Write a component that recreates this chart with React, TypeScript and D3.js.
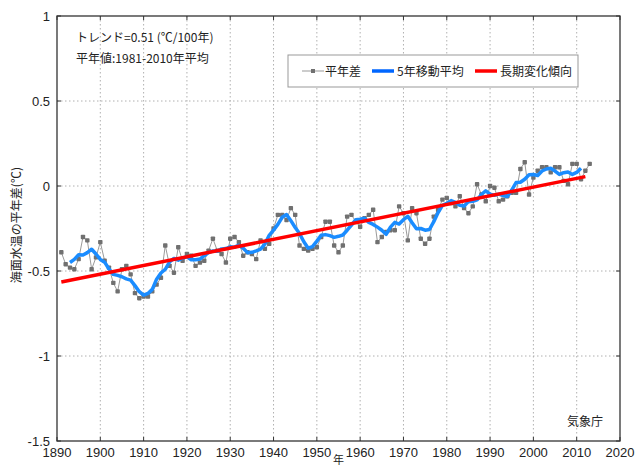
import React, { useRef, useEffect } from "react";
import { select, scaleLinear, line, mean, range } from "d3";

// 世界の年平均海面水温の平年差 (1891-2013)
const firstYear = 1891;
const anomalies = [
  -0.39, -0.46, -0.48, -0.49, -0.43, -0.3, -0.32, -0.49, -0.42, -0.33,
  -0.44, -0.48, -0.57, -0.62, -0.49, -0.47, -0.52, -0.63, -0.66, -0.65,
  -0.65, -0.62, -0.58, -0.54, -0.35, -0.47, -0.51, -0.36, -0.44, -0.4,
  -0.41, -0.47, -0.45, -0.44, -0.38, -0.31, -0.38, -0.4, -0.45, -0.31,
  -0.3, -0.33, -0.41, -0.39, -0.4, -0.43, -0.32, -0.37, -0.34, -0.25,
  -0.17, -0.17, -0.2, -0.13, -0.17, -0.35, -0.37, -0.38, -0.37, -0.36,
  -0.3, -0.21, -0.21, -0.35, -0.39, -0.35, -0.18, -0.17, -0.21, -0.24,
  -0.19, -0.17, -0.14, -0.33, -0.3, -0.27, -0.26, -0.26, -0.12, -0.16,
  -0.32, -0.13, -0.16, -0.31, -0.34, -0.31, -0.18, -0.14, -0.08, -0.07,
  -0.1, -0.12, -0.06, -0.13, -0.16, -0.12, 0.01, -0.05, -0.09, 0.0,
  -0.01, -0.09, -0.08, -0.06, -0.04, -0.04, 0.1, 0.14, -0.05, 0.05,
  0.09, 0.11, 0.11, 0.08, 0.11, 0.11, 0.03, 0.01, 0.13, 0.13,
  0.04, 0.09, 0.13,
];
// 長期変化傾向 (0.51℃/100年)
const trendYears = [1891, 2012];
const trendValues = [-0.565, 0.055];

const xTicks = [1890, 1900, 1910, 1920, 1930, 1940, 1950, 1960, 1970, 1980, 1990, 2000, 2010, 2020];
const yTicks = [1, 0.5, 0, -0.5, -1, -1.5];
const legendLabels = ["平年差", "5年移動平均", "長期変化傾向"];

const W = 635;
const H = 468;
const jp = "'Noto Sans CJK JP', 'Liberation Sans', sans-serif";
const num = "'Liberation Sans', 'Noto Sans CJK JP', sans-serif";

function App() {
  const svgRef = useRef(null);
  useEffect(() => {
    const svg = select(svgRef.current);
    svg.selectAll("*").remove();

    const x = scaleLinear().domain([1890, 2020]).range([57, 620]);
    const y = scaleLinear().domain([-1.5, 1]).range([441, 16]);

    const annual = anomalies.map((v, i) => ({ year: firstYear + i, value: v }));
    // 5年移動平均 (centered)
    const smooth = range(2, annual.length - 2).map((i) => ({
      year: annual[i].year,
      value: mean(annual.slice(i - 2, i + 3), (d) => d.value),
    }));
    const trend = trendYears.map((yr, i) => ({ year: yr, value: trendValues[i] }));

    // grid
    const grid = svg.append("g").attr("stroke", "#b0b0b0").attr("stroke-dasharray", "1.5,2.5");
    xTicks.slice(1, -1).forEach((t) => {
      grid.append("line").attr("x1", x(t)).attr("x2", x(t)).attr("y1", y(1)).attr("y2", y(-1.5));
    });
    yTicks.slice(1, -1).forEach((t) => {
      grid.append("line").attr("x1", x(1890)).attr("x2", x(2020)).attr("y1", y(t)).attr("y2", y(t));
    });

    // frame + inward ticks
    svg.append("rect")
      .attr("x", x(1890)).attr("y", y(1))
      .attr("width", x(2020) - x(1890)).attr("height", y(-1.5) - y(1))
      .attr("fill", "none").attr("stroke", "#333").attr("stroke-width", 1.3);
    const ticks = svg.append("g").attr("stroke", "#333");
    yTicks.forEach((t) => {
      ticks.append("line").attr("x1", x(1890)).attr("x2", x(1890) + 4).attr("y1", y(t)).attr("y2", y(t));
      ticks.append("line").attr("x1", x(2020)).attr("x2", x(2020) - 4).attr("y1", y(t)).attr("y2", y(t));
    });
    xTicks.forEach((t) => {
      ticks.append("line").attr("x1", x(t)).attr("x2", x(t)).attr("y1", y(-1.5)).attr("y2", y(-1.5) - 4);
      ticks.append("line").attr("x1", x(t)).attr("x2", x(t)).attr("y1", y(1)).attr("y2", y(1) + 4);
    });

    // tick labels
    svg.append("g").selectAll("text").data(yTicks).enter().append("text")
      .attr("x", x(1890) - 7).attr("y", (d) => y(d) + 5)
      .attr("text-anchor", "end").style("font", `13px ${num}`).attr("fill", "#222")
      .text((d) => String(d));
    svg.append("g").selectAll("text").data(xTicks).enter().append("text")
      .attr("x", (d) => x(d)).attr("y", y(-1.5) + 16)
      .attr("text-anchor", "middle").style("font", `13px ${num}`).attr("fill", "#222")
      .text((d) => String(d));

    svg.append("text").attr("x", x(1955)).attr("y", 464).attr("text-anchor", "middle")
      .style("font", `11px ${jp}`).attr("fill", "#222").text("年");
    svg.append("text")
      .attr("transform", `translate(21,${y(-0.23)}) rotate(-90)`)
      .attr("text-anchor", "middle").style("font", `12px ${jp}`).attr("fill", "#222")
      .text("海面水温の平年差(℃)");

    // annual series
    const lineGen = line()
      .x((d) => x(d.year))
      .y((d) => y(d.value));
    svg.append("path").datum(annual).attr("d", lineGen)
      .attr("fill", "none").attr("stroke", "#9a9a9a").attr("stroke-width", 1);
    svg.append("g").selectAll("rect").data(annual).enter().append("rect")
      .attr("x", (d) => x(d.year) - 2.2).attr("y", (d) => y(d.value) - 2.2)
      .attr("width", 4.4).attr("height", 4.4).attr("rx", 0.8).attr("fill", "#707070");

    svg.append("path").datum(smooth).attr("d", lineGen)
      .attr("fill", "none").attr("stroke", "#1a8cff").attr("stroke-width", 3.5)
      .attr("stroke-linejoin", "round");
    svg.append("path").datum(trend).attr("d", lineGen)
      .attr("fill", "none").attr("stroke", "#ff0000").attr("stroke-width", 3.5);

    // annotations
    svg.append("text").attr("x", 76).attr("y", 42).style("font", `12px ${jp}`).attr("fill", "#222")
      .text("トレンド=0.51 (℃/100年)");
    svg.append("text").attr("x", 76).attr("y", 63).style("font", `12px ${jp}`).attr("fill", "#222")
      .text("平年値:1981-2010年平均");
    svg.append("text").attr("x", 567).attr("y", 426).style("font", `12px ${jp}`).attr("fill", "#222")
      .text("気象庁");

    // legend
    const lg = svg.append("g").attr("transform", "translate(288,55)");
    lg.append("rect").attr("width", 290).attr("height", 32)
      .attr("fill", "#fff").attr("stroke", "#999");
    const items = [
      { x0: 14, color: "#999", w: 1, tx: 37 },
      { x0: 84, color: "#0066ff", w: 3.5, tx: 109 },
      { x0: 187, color: "#ff0000", w: 3.5, tx: 212 },
    ];
    items.forEach((it, i) => {
      lg.append("line").attr("x1", it.x0).attr("x2", it.x0 + 22).attr("y1", 16).attr("y2", 16)
        .attr("stroke", it.color).attr("stroke-width", it.w);
      if (i === 0) {
        lg.append("rect").attr("x", it.x0 + 9).attr("y", 14).attr("width", 4).attr("height", 4).attr("fill", "#707070");
      }
      lg.append("text").attr("x", it.tx).attr("y", 20.5).style("font", `12px ${jp}`).attr("fill", "#222")
        .text(legendLabels[i]);
    });
  }, []);

  return (
    <svg
      ref={svgRef}
      width={W}
      height={H}
      style={{ position: "absolute", left: 0, top: 0, background: "#fff" }}
    ></svg>
  );
}

export default App;
